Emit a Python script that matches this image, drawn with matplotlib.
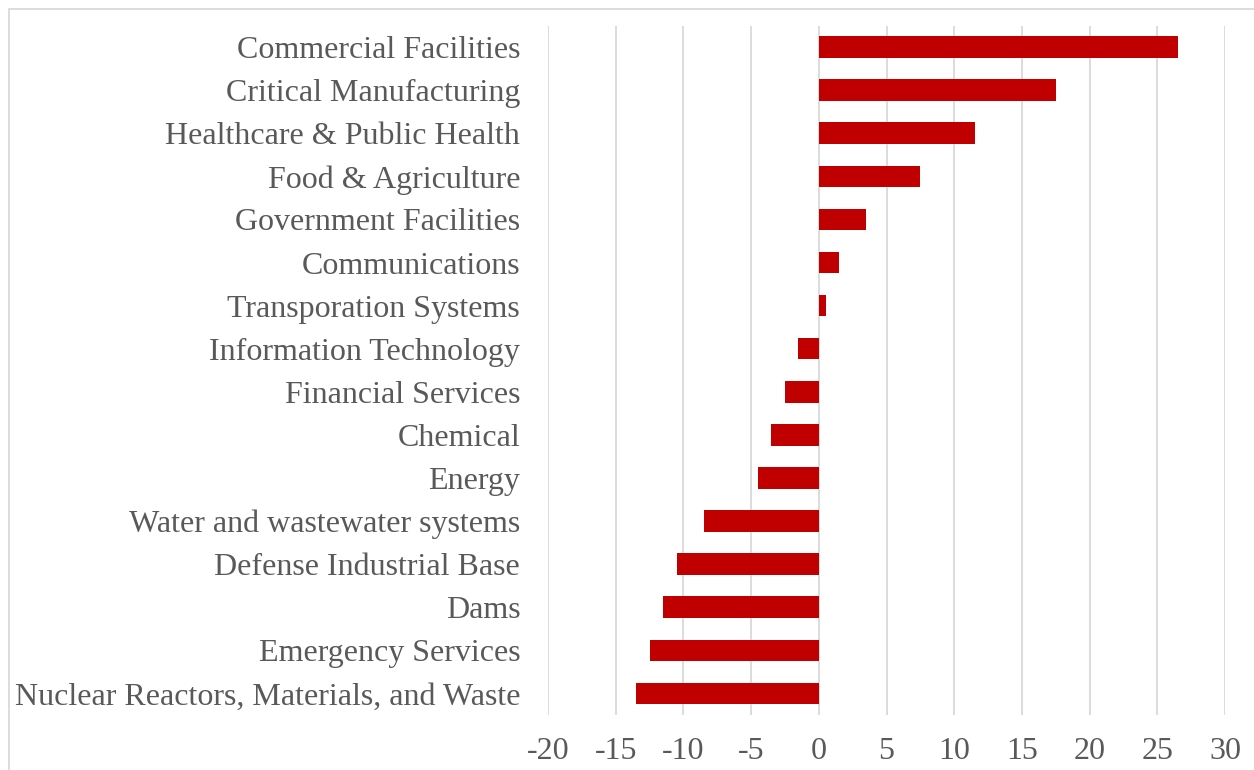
import matplotlib.pyplot as plt
from matplotlib.patches import Rectangle

# sectors, bottom to top
sectors = [
    "Nuclear Reactors, Materials, and Waste",
    "Emergency Services",
    "Dams",
    "Defense Industrial Base",
    "Water and wastewater systems",
    "Energy",
    "Chemical",
    "Financial Services",
    "Information Technology",
    "Transporation Systems",
    "Communications",
    "Government Facilities",
    "Food & Agriculture",
    "Healthcare & Public Health",
    "Critical Manufacturing",
    "Commercial Facilities",
]
values = [-13.5, -12.5, -11.5, -10.5, -8.5, -4.5, -3.5, -2.5, -1.5,
          0.5, 1.5, 3.5, 7.5, 11.5, 17.5, 26.5]
xticks = list(range(-20, 35, 5))

plt.rcParams['font.family'] = ['Liberation Serif', 'DejaVu Serif']
grey = '#595959'

fig = plt.figure(figsize=(12.54, 7.70), dpi=100)
ax = fig.add_axes([548/1254, 1 - 715/770, (1225-548)/1254, (715-25.5)/770])

ypos = range(len(sectors))
ax.barh(ypos, values, height=0.5, color='#c00000', zorder=3)

ax.set_xlim(-20, 30)
ax.set_ylim(-0.5, len(sectors) - 0.5)
ax.set_xticks(xticks)
ax.set_xticklabels([str(t) for t in xticks])
ax.set_yticks(list(ypos))
ax.set_yticklabels(sectors)
ax.grid(axis='x', color='#d9d9d9', linewidth=1.3, zorder=0)
for s in ax.spines.values():
    s.set_visible(False)
ax.tick_params(axis='both', length=0, colors=grey, labelsize=23)
ax.tick_params(axis='y', pad=20)
ax.tick_params(axis='x', pad=16)

# light chart-area border
fig.patches.append(Rectangle((9/1254, -0.1), 1.2, 1 - 9/770 + 0.1,
                             transform=fig.transFigure, fill=False,
                             edgecolor='#d9d9d9', linewidth=1.3))

fig.savefig('out.png', dpi=100)
